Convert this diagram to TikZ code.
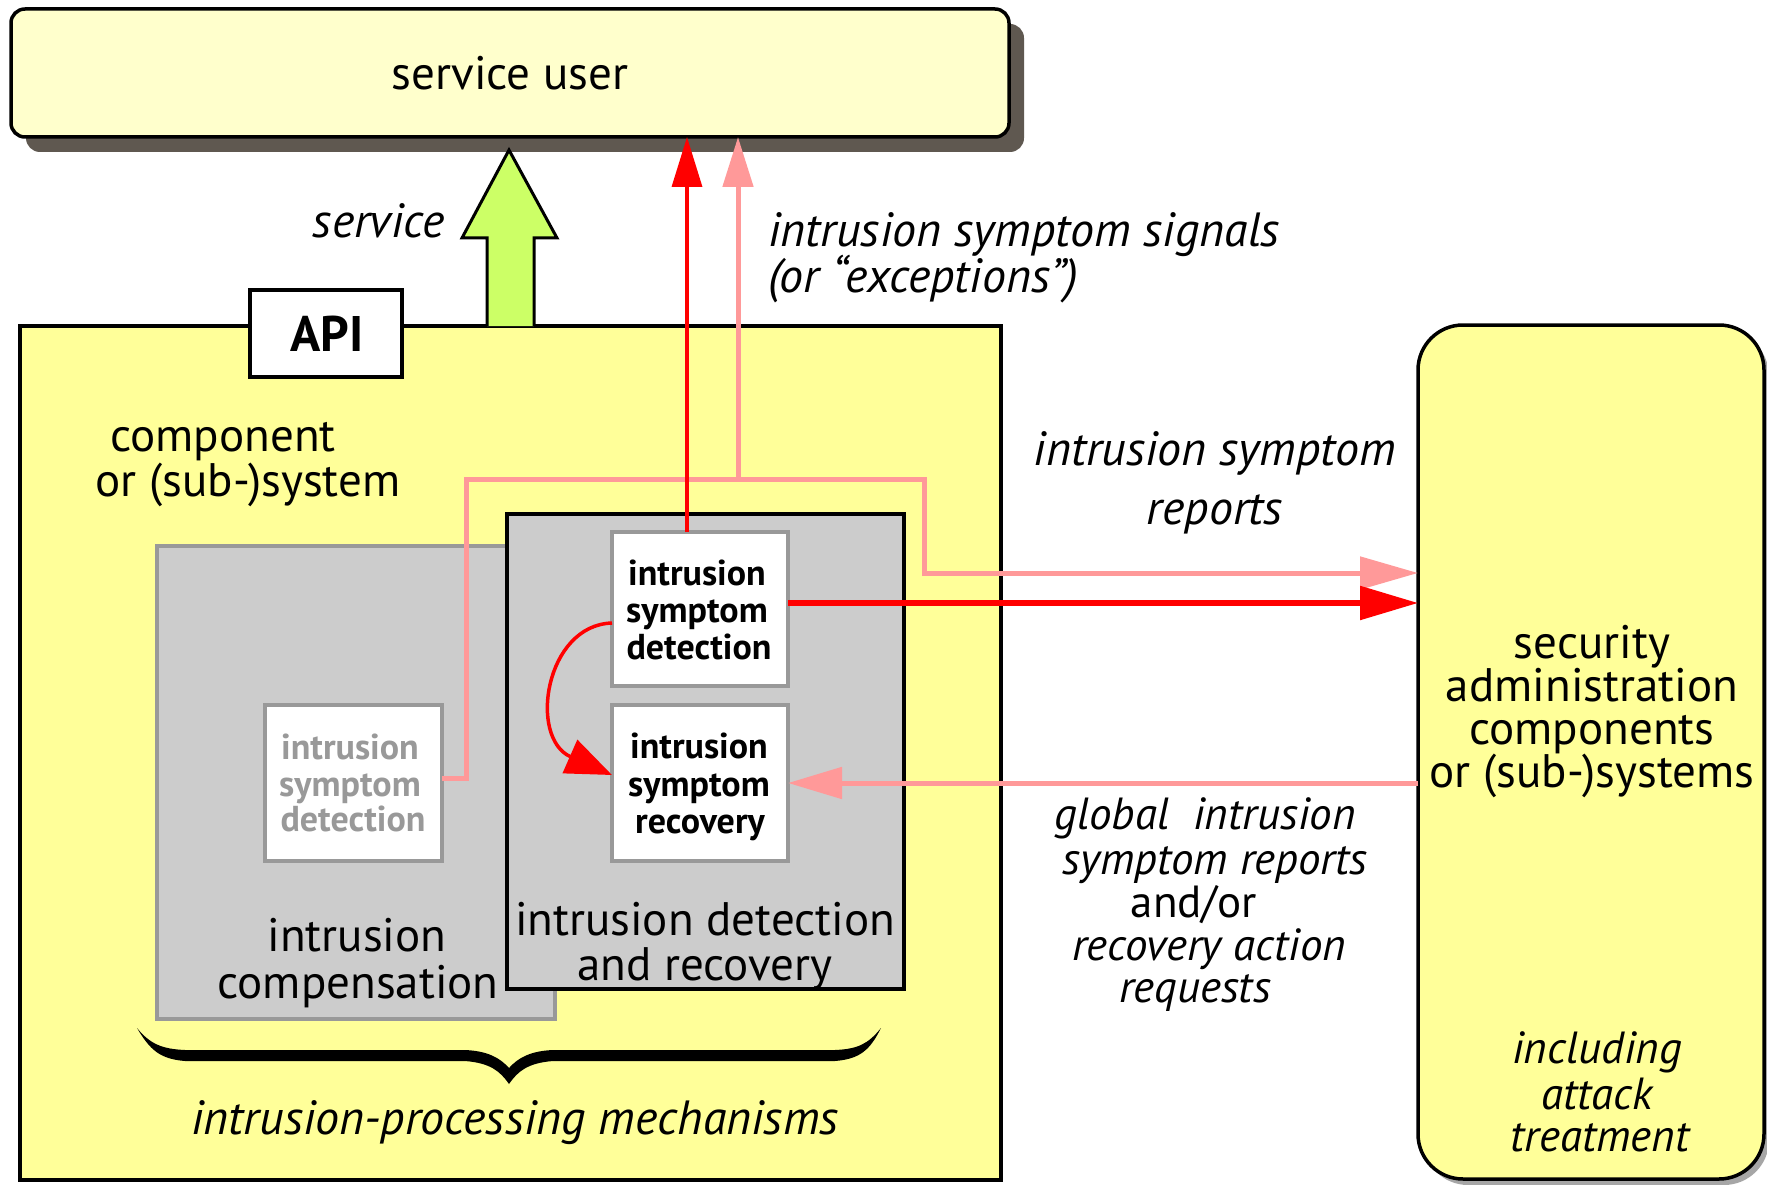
\documentclass[tikz,border=0pt]{standalone}
\usepackage{fontspec}
\setmainfont{PT Sans}
\usetikzlibrary{arrows.meta,shadows,calc}
\definecolor{ybg}{HTML}{FFFF99}
\definecolor{ylight}{HTML}{FFFFCC}
\definecolor{shd}{HTML}{5F5850}
\definecolor{gfill}{HTML}{CCCCCC}
\definecolor{gline}{HTML}{999999}
\definecolor{grn}{HTML}{CCFF66}
\definecolor{pnk}{HTML}{FF9999}
\definecolor{rd}{HTML}{FF0000}
\newcommand\myfsize[1]{\fontsize{#1}{#1}\selectfont}
\newcommand\tline[4]{\node[#1,anchor=base] (#2) at (#3) {#4};}
\tikzset{
  txt/.style={inner sep=0pt, font=\myfsize{47}, text height=0.68em, text depth=0.16em},
  itxt/.style={inner sep=0pt, font=\myfsize{48}\itshape, text height=0.68em, text depth=0.16em},
  stxt/.style={inner sep=0pt, font=\myfsize{45}, text height=0.68em, text depth=0.16em},
  sitxt/.style={inner sep=0pt, font=\myfsize{45}\itshape, text height=0.68em, text depth=0.16em},
  btxt/.style={inner sep=0pt, font=\myfsize{36}\bfseries, text height=0.7em, text depth=0.18em},
  gtxt/.style={btxt, text=gline},
  box/.style={inner sep=0pt, outer sep=0pt},
  pinkline/.style={pnk, line width=5pt},
  redline/.style={rd, line width=3.5pt},
}
\begin{document}
\begin{tikzpicture}[x=1pt,y=-1pt]
\useasboundingbox (0,0) rectangle (1767,1185);
\fill[white] (0,0) rectangle (1767,1185);

% service user
\node[box, draw=black, line width=3.5pt, fill=ylight, rounded corners=14pt,
  minimum width=998pt, minimum height=128pt,
  drop shadow={shadow xshift=15pt,shadow yshift=-15pt,fill=shd,opacity=1}] (su) at (510,73) {};
\tline{txt}{sutxt}{510,90}{service user}

% component box
\node[box, draw=black, line width=3.5pt, fill=ybg, minimum width=981pt, minimum height=854pt] (comp) at (510.5,753) {};

% security admin box
\node[box, draw=black, line width=3.5pt, fill=ybg, rounded corners=45pt,
  minimum width=346pt, minimum height=854pt,
  drop shadow={shadow xshift=5pt,shadow yshift=-6pt,fill=gray!70,opacity=1}] (sec) at (1591,752) {};

% green service arrow
\draw[black, line width=3pt, fill=grn, line join=miter]
  (487,326) -- (487,238) -- (462,238) -- (509,150) -- (557,238) -- (534,238) -- (534,326);
\node[itxt, anchor=base east] (servtxt) at (445,238) {service};

% API box
\node[box, draw=black, line width=3.5pt, fill=white, minimum width=152pt, minimum height=87pt] (api) at (326,333.5) {};
\node[inner sep=0pt, font=\myfsize{50}\bfseries, anchor=base] (apitxt) at (327,351) {API};

% grey compensation box
\node[box, draw=gline, line width=3.5pt, fill=gfill, minimum width=398pt, minimum height=473pt] (cbox) at (356,782.5) {};
% detection and recovery box
\node[box, draw=black, line width=4.5pt, fill=gfill, minimum width=397pt, minimum height=475pt] (ibox) at (705.5,751.5) {};

% inner boxes
\node[box, draw=gline, line width=4.5pt, fill=white, minimum width=176pt, minimum height=154pt] (det) at (700,609) {};
\node[box, draw=gline, line width=4.5pt, fill=white, minimum width=176pt, minimum height=156pt] (rec) at (700,783) {};
\node[box, draw=gline, line width=4pt, fill=white, minimum width=177pt, minimum height=156pt] (gdet) at (353.5,783) {};

% pink symptom lines
\coordinate (pa) at (466,479);
\coordinate (pb) at (924,479);
\coordinate (pc) at (924,573);
\coordinate (pd) at (738,479);
\draw[pinkline, -{Triangle[length=58pt,width=32pt]}]
  ($(gdet.east)+(0,-5)$) -| (pa) -- (pb) -- (pc) -- (pc -| sec.west);
\draw[pinkline, -{Triangle[length=50pt,width=30pt]}] (pd) -- (pd |- su.south);

% red signal line
\coordinate (ra) at ($(det.north)+(-13,0)$);
\draw[redline, -{Triangle[length=50pt,width=30pt]}] (ra) -- (ra |- su.south);
\coordinate (rh) at ($(det.east)+(0,-6)$);
\draw[rd, line width=5.5pt, -{Triangle[length=58pt,width=33pt]}] (rh) -- (rh -| sec.west);

% red curved arrow detection -> recovery
\draw[redline, -{Triangle[length=46pt,width=36pt]}]
  ($(det.west)+(0,14)$) .. controls (545,625) and (528,738) .. ($(rec.west)+(0,-8)$);

% pink return arrow
\draw[pinkline, -{Triangle[length=54pt,width=31pt]}] (rec.east -| sec.west) -- (rec.east);

% brace
\fill[black] (137,1028) .. controls (150,1050) and (160,1059) .. (185,1061) -- (465,1061)
  .. controls (490,1063) and (500,1071) .. (509,1084)
  .. controls (518,1071) and (528,1063) .. (553,1061) -- (835,1061)
  .. controls (860,1059) and (870,1050) .. (881,1028)
  .. controls (868,1044) and (858,1049) .. (835,1050) -- (553,1050)
  .. controls (530,1051) and (518,1058) .. (509,1068)
  .. controls (500,1058) and (488,1051) .. (465,1050) -- (185,1050)
  .. controls (162,1049) and (150,1044) .. (137,1028) -- cycle;

% texts
\node[itxt, anchor=base west] (sig1) at (768,247) {intrusion symptom signals};
\node[itxt, anchor=base west] (sig2) at (768,292) {(or “exceptions”)};

\tline{txt}{co1}{223,451}{component}
\tline{txt}{co2}{248,496}{or (sub-)system}

\tline{itxt}{rep1}{1215,465}{intrusion symptom}
\tline{itxt}{rep2}{1215,524}{reports}

\tline{txt}{se1}{1592,658}{security}
\tline{txt}{se2}{1592,701}{administration}
\tline{txt}{se3}{1592,744}{components}
\tline{txt}{se4}{1592,787}{or (sub-)systems}

\tline{sitxt}{gl1}{1205,829}{global\ \ intrusion}
\tline{sitxt}{gl2}{1215,874}{symptom reports}
\tline{stxt}{gl3}{1194,917}{and/or}
\tline{sitxt}{gl4}{1209,960}{recovery action}
\tline{sitxt}{gl5}{1195,1002}{requests}

\tline{sitxt}{in1}{1597,1063}{including}
\tline{sitxt}{in2}{1597,1109}{attack}
\tline{sitxt}{in3}{1600,1151}{treatment}

\tline{btxt}{de1}{697,585}{intrusion}
\tline{btxt}{de2}{697,622}{symptom}
\tline{btxt}{de3}{699,659}{detection}

\tline{btxt}{re1}{699,758}{intrusion}
\tline{btxt}{re2}{699,796}{symptom}
\tline{btxt}{re3}{700,833}{recovery}

\tline{gtxt}{gd1}{350,759}{intrusion}
\tline{gtxt}{gd2}{350,796}{symptom}
\tline{gtxt}{gd3}{353,831}{detection}

\tline{txt}{cp1}{357,951}{intrusion}
\tline{txt}{cp2}{358,998}{compensation}

\tline{txt}{id1}{705,935}{intrusion detection}
\tline{txt}{id2}{705,980}{and recovery}

\tline{itxt}{ipm}{515,1134}{intrusion-processing mechanisms}
\end{tikzpicture}
\end{document}
